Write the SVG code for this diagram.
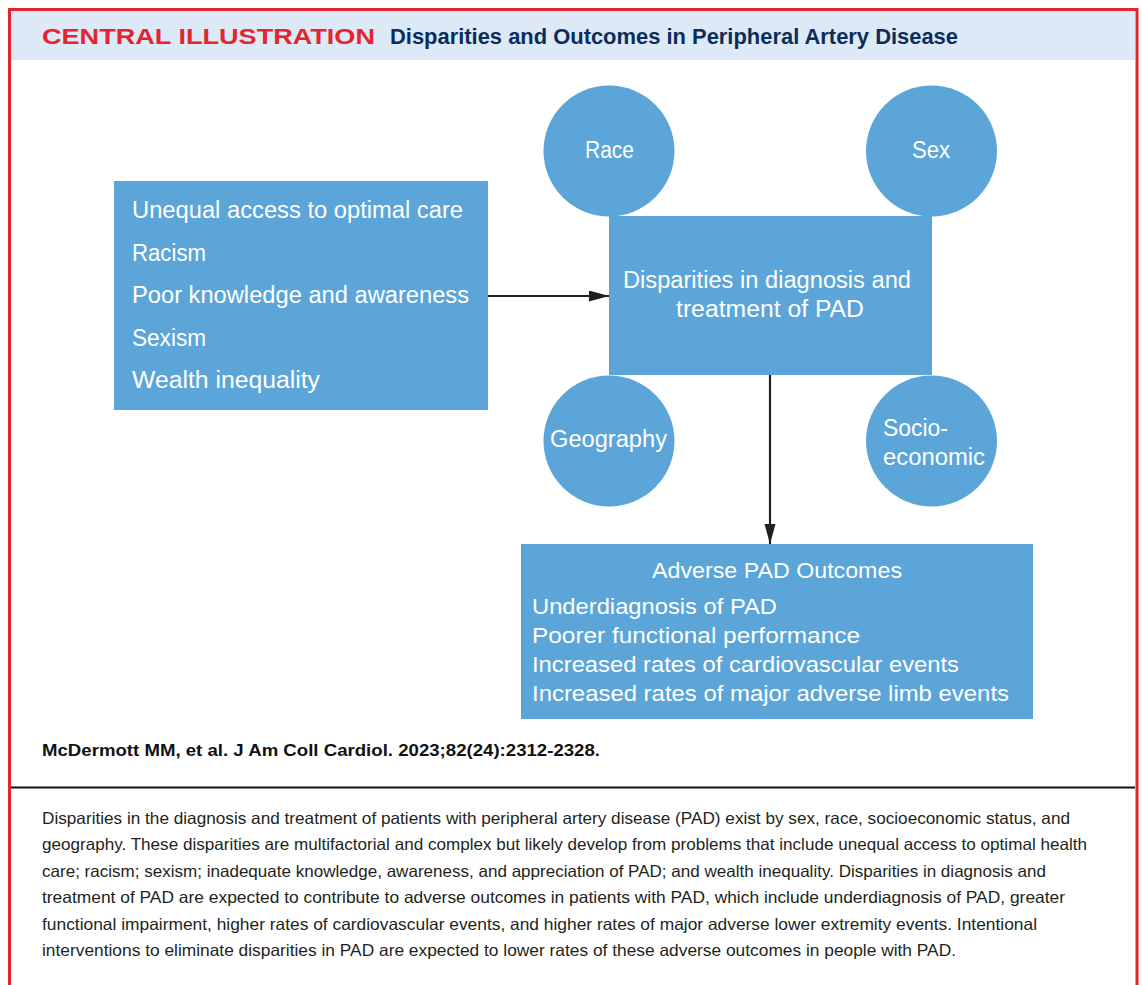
<svg xmlns="http://www.w3.org/2000/svg" width="1142" height="985" viewBox="0 0 1142 985">
  <style>
    .box { fill: #5ba5d9; }
    .wt { fill: #ffffff; font-family: "Liberation Sans", Arial, sans-serif; font-size: 23.5px; }
    .wt2 { fill: #ffffff; font-family: "Liberation Sans", Arial, sans-serif; font-size: 22.5px; }
    .para { fill: #231f20; font-family: "Liberation Sans", Arial, sans-serif; font-size: 16.5px; }
    .conn { stroke: #231f20; stroke-width: 2.2; fill: none; }
  </style>
  <defs>
    <marker id="arrow" markerUnits="userSpaceOnUse" markerWidth="21" markerHeight="12" refX="20" refY="5.5" orient="auto">
      <path d="M0,0 L20,5.5 L0,11 Z" fill="#231f20"/>
    </marker>
  </defs>
  <rect x="0" y="0" width="1142" height="985" fill="#ffffff"/>

  <g id="frame">
    <rect x="11" y="11" width="1124" height="49" fill="#dde9f6"/>
    <rect x="9.5" y="9.5" width="1127.5" height="1000" fill="none" stroke="#e3262e" stroke-width="3"/>
    <text x="42" y="44" font-family="Liberation Sans, Arial, sans-serif" font-weight="bold" font-size="21.5" fill="#e3262e" textLength="333" lengthAdjust="spacingAndGlyphs">CENTRAL ILLUSTRATION</text>
    <text x="390" y="44" font-family="Liberation Sans, Arial, sans-serif" font-weight="bold" font-size="22" fill="#0b2d5b" textLength="568" lengthAdjust="spacingAndGlyphs">Disparities and Outcomes in Peripheral Artery Disease</text>
    <line x1="11" y1="787.5" x2="1135" y2="787.5" stroke="#111111" stroke-width="2.2"/>
  </g>

  <g id="causes">
    <rect class="box" x="114" y="181" width="374" height="229"/>
    <text class="wt" x="132" y="218" textLength="331" lengthAdjust="spacingAndGlyphs">Unequal access to optimal care</text>
    <text class="wt" x="132" y="261" textLength="74" lengthAdjust="spacingAndGlyphs">Racism</text>
    <text class="wt" x="132" y="303" textLength="337" lengthAdjust="spacingAndGlyphs">Poor knowledge and awareness</text>
    <text class="wt" x="132" y="346" textLength="74" lengthAdjust="spacingAndGlyphs">Sexism</text>
    <text class="wt" x="132" y="388" textLength="188" lengthAdjust="spacingAndGlyphs">Wealth inequality</text>
  </g>

  <g id="race">
    <circle class="box" cx="609" cy="151" r="65.5"/>
    <text class="wt" x="609.5" y="158" text-anchor="middle" textLength="49" lengthAdjust="spacingAndGlyphs">Race</text>
  </g>
  <g id="sex">
    <circle class="box" cx="931.5" cy="151" r="65.5"/>
    <text class="wt" x="931" y="158" text-anchor="middle" textLength="38" lengthAdjust="spacingAndGlyphs">Sex</text>
  </g>
  <g id="geography">
    <circle class="box" cx="609" cy="441" r="65.5"/>
    <text class="wt" x="608.5" y="447" text-anchor="middle" textLength="117" lengthAdjust="spacingAndGlyphs">Geography</text>
  </g>
  <g id="socioeconomic">
    <circle class="box" cx="931.5" cy="441" r="65.5"/>
    <text class="wt" x="883" y="436" textLength="65" lengthAdjust="spacingAndGlyphs">Socio-</text>
    <text class="wt" x="883" y="465" textLength="102" lengthAdjust="spacingAndGlyphs">economic</text>
  </g>

  <g id="disparities">
    <rect class="box" x="609" y="216" width="323" height="159"/>
    <text class="wt" x="767" y="288" text-anchor="middle" textLength="288" lengthAdjust="spacingAndGlyphs">Disparities in diagnosis and</text>
    <text class="wt" x="770" y="317" text-anchor="middle" textLength="188" lengthAdjust="spacingAndGlyphs">treatment of PAD</text>
  </g>

  <g id="outcomes">
    <rect class="box" x="521" y="544" width="512" height="175"/>
    <text class="wt2" x="777" y="578" text-anchor="middle" textLength="250" lengthAdjust="spacingAndGlyphs">Adverse PAD Outcomes</text>
    <text class="wt2" x="532" y="614" textLength="245" lengthAdjust="spacingAndGlyphs">Underdiagnosis of PAD</text>
    <text class="wt2" x="532" y="643" textLength="328" lengthAdjust="spacingAndGlyphs">Poorer functional performance</text>
    <text class="wt2" x="532" y="672" textLength="427" lengthAdjust="spacingAndGlyphs">Increased rates of cardiovascular events</text>
    <text class="wt2" x="532" y="701" textLength="477" lengthAdjust="spacingAndGlyphs">Increased rates of major adverse limb events</text>
  </g>

  <g id="connectors">
    <line class="conn" x1="488" y1="296" x2="609" y2="296" marker-end="url(#arrow)"/>
    <line class="conn" x1="770" y1="375" x2="770" y2="544" marker-end="url(#arrow)"/>
  </g>

  <g id="caption">
    <text x="42" y="756" font-family="Liberation Sans, Arial, sans-serif" font-weight="bold" font-size="17" fill="#111111" textLength="558" lengthAdjust="spacingAndGlyphs">McDermott MM, et al. J Am Coll Cardiol. 2023;82(24):2312-2328.</text>
    <text class="para" x="42" y="823.5" textLength="1028" lengthAdjust="spacingAndGlyphs">Disparities in the diagnosis and treatment of patients with peripheral artery disease (PAD) exist by sex, race, socioeconomic status, and</text>
    <text class="para" x="42" y="850" textLength="1045" lengthAdjust="spacingAndGlyphs">geography. These disparities are multifactorial and complex but likely develop from problems that include unequal access to optimal health</text>
    <text class="para" x="42" y="876.5" textLength="1004" lengthAdjust="spacingAndGlyphs">care; racism; sexism; inadequate knowledge, awareness, and appreciation of PAD; and wealth inequality. Disparities in diagnosis and</text>
    <text class="para" x="42" y="903" textLength="1023" lengthAdjust="spacingAndGlyphs">treatment of PAD are expected to contribute to adverse outcomes in patients with PAD, which include underdiagnosis of PAD, greater</text>
    <text class="para" x="42" y="929.5" textLength="995" lengthAdjust="spacingAndGlyphs">functional impairment, higher rates of cardiovascular events, and higher rates of major adverse lower extremity events. Intentional</text>
    <text class="para" x="42" y="956" textLength="914" lengthAdjust="spacingAndGlyphs">interventions to eliminate disparities in PAD are expected to lower rates of these adverse outcomes in people with PAD.</text>
  </g>
</svg>
